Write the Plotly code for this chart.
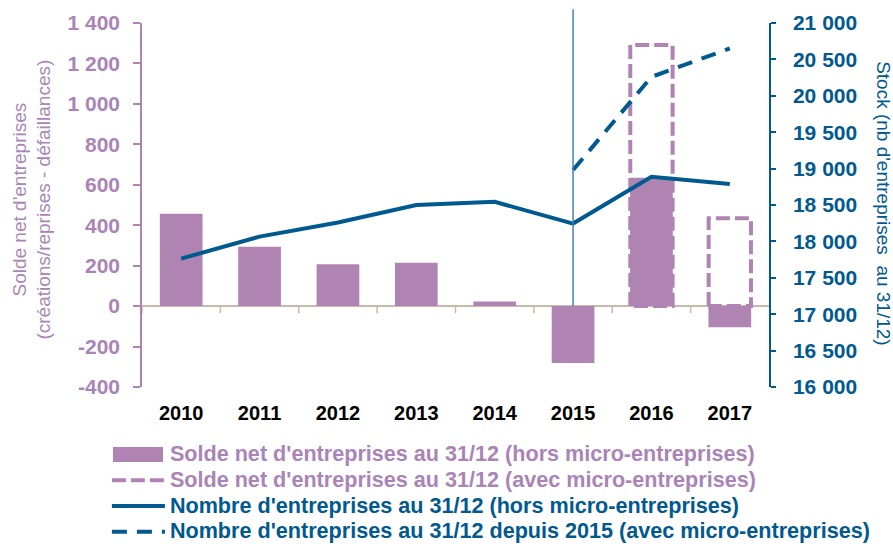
import plotly.graph_objects as go

years = [2010, 2011, 2012, 2013, 2014, 2015, 2016, 2017]
solde_hors = [457, 294, 207, 214, 23, -281, 635, -104]
years_avec = [2016, 2017]
solde_avec = [1291, 434]
stock_hors = [17763, 18066, 18259, 18499, 18544, 18245, 18888, 18788]
years_stock_avec = [2015, 2016, 2017]
stock_avec = [18981, 20260, 20650]
left_ticks = [-400, -200, 0, 200, 400, 600, 800, 1000, 1200, 1400]
right_ticks = [16000, 16500, 17000, 17500, 18000, 18500, 19000, 19500, 20000, 20500, 21000]
ref_year = 2015

PURPLE = "#af84b3"
PURPLE_TXT = "#aa84b6"
BLUE = "#00598f"
TAN = "#c8b9aa"
VLINE = "#4a7ebb"
FONT = "Liberation Sans, Arial, sans-serif"

def fmt(v):
    s = f"{abs(v):,}".replace(",", "\u00a0")
    return ("-" if v < 0 else "") + s

def leg(text, color):
    return f"<span style='color:{color};font-size:21.6px'>{text}</span>"

half = 0.27
rx, ry = [], []
for yr, v in zip(years_avec, solde_avec):
    rx += [yr - half, yr - half, yr + half, yr + half, yr - half, None]
    ry += [0, v, v, 0, 0, None]

fig = go.Figure()
fig.add_trace(go.Bar(
    x=years, y=solde_hors, width=0.545, marker=dict(color=PURPLE, line=dict(width=0)),
    name=leg("Solde net d'entreprises au 31/12 (hors micro-entreprises)", PURPLE_TXT),
    yaxis="y"))
fig.add_trace(go.Scatter(
    x=rx, y=ry, mode="lines", line=dict(color=PURPLE, width=4, dash="14px,5px"),
    name=leg("Solde net d'entreprises au 31/12 (avec micro-entreprises)", PURPLE_TXT),
    yaxis="y"))
fig.add_trace(go.Scatter(
    x=years, y=stock_hors, mode="lines", line=dict(color=BLUE, width=4),
    name=leg("Nombre d'entreprises au 31/12 (hors micro-entreprises)", BLUE),
    yaxis="y2"))
fig.add_trace(go.Scatter(
    x=years_stock_avec, y=stock_avec, mode="lines", line=dict(color=BLUE, width=4, dash="15px,10px"),
    name=leg("Nombre d'entreprises au 31/12 depuis 2015 (avec micro-entreprises)", BLUE),
    yaxis="y2"))

lo, hi = left_ticks[0], left_ticks[-1]
zero_paper = (0 - lo) / (hi - lo)
shapes = [dict(type="line", xref="x", yref="paper", x0=ref_year, x1=ref_year,
               y0=zero_paper, y1=1.038, line=dict(color=VLINE, width=1.5), layer="above")]
for b in [y + 0.5 for y in years[:-1]] + [years[0] - 0.5]:
    shapes.append(dict(type="line", xref="x", yref="y", x0=b, x1=b, y0=0, y1=-35,
                       line=dict(color=TAN, width=1.5)))
# wide legend swatch for the bar series (as in the original legend)
shapes.append(dict(type="rect", xref="paper", yref="paper", x0=-0.0463, x1=0.0335,
                   y0=-0.206, y1=-0.165, fillcolor=PURPLE, line=dict(width=0), layer="above"))

fig.update_layout(
    width=893, height=546,
    margin=dict(l=142, r=124, t=23, b=159, autoexpand=False),
    plot_bgcolor="white", paper_bgcolor="white",
    showlegend=True,
    legend=dict(x=-0.056, y=-0.136, xanchor="left", yanchor="top",
                font=dict(family=FONT, size=17.5, color=PURPLE_TXT, weight="bold"),
                tracegroupgap=0, itemwidth=53, bgcolor="rgba(0,0,0,0)"),
    xaxis=dict(range=[years[0] - 0.5, years[-1] + 0.5], tickvals=years,
               ticktext=[str(y) for y in years], showline=False, showgrid=False,
               zeroline=False, ticks="", ticklabelstandoff=12,
               tickfont=dict(family=FONT, size=20, color="black", weight="bold")),
    yaxis=dict(range=[lo, hi], tickvals=left_ticks, ticktext=[fmt(v) for v in left_ticks],
               showgrid=False, zeroline=True, zerolinecolor=TAN, zerolinewidth=1.5,
               showline=True, linecolor=PURPLE, linewidth=1.5,
               ticks="outside", ticklen=7, tickcolor=PURPLE, tickwidth=1.5,
               ticklabelstandoff=9,
               tickfont=dict(family=FONT, size=21, color=PURPLE_TXT, weight="bold")),
    yaxis2=dict(range=[right_ticks[0], right_ticks[-1]], tickvals=right_ticks,
                ticktext=[fmt(v) for v in right_ticks], overlaying="y", side="right",
                showgrid=False, zeroline=False, showline=True, linecolor=BLUE, linewidth=1.5,
                ticks="outside", ticklen=5, tickcolor=BLUE, tickwidth=1.5,
                ticklabelstandoff=13,
                tickfont=dict(family=FONT, size=21, color=BLUE, weight="bold")),
    shapes=shapes,
    annotations=[
        dict(text="Solde net d'entreprises<br>(créations/reprises - défaillances)",
             xref="paper", yref="paper", x=-0.176, y=0.514, xanchor="center", yanchor="middle",
             textangle=-90, showarrow=False,
             font=dict(family=FONT, size=19, color=PURPLE_TXT)),
        dict(text="Stock (nb d'entreprises \u00a0au 31/12)",
             xref="paper", yref="paper", x=1.1835, y=0.505, xanchor="center", yanchor="middle",
             textangle=90, showarrow=False,
             font=dict(family=FONT, size=19, color=BLUE)),
    ],
)
fig.write_html("out.html", config={"displayModeBar": False},
               post_script="document.body.style.margin='0';")
